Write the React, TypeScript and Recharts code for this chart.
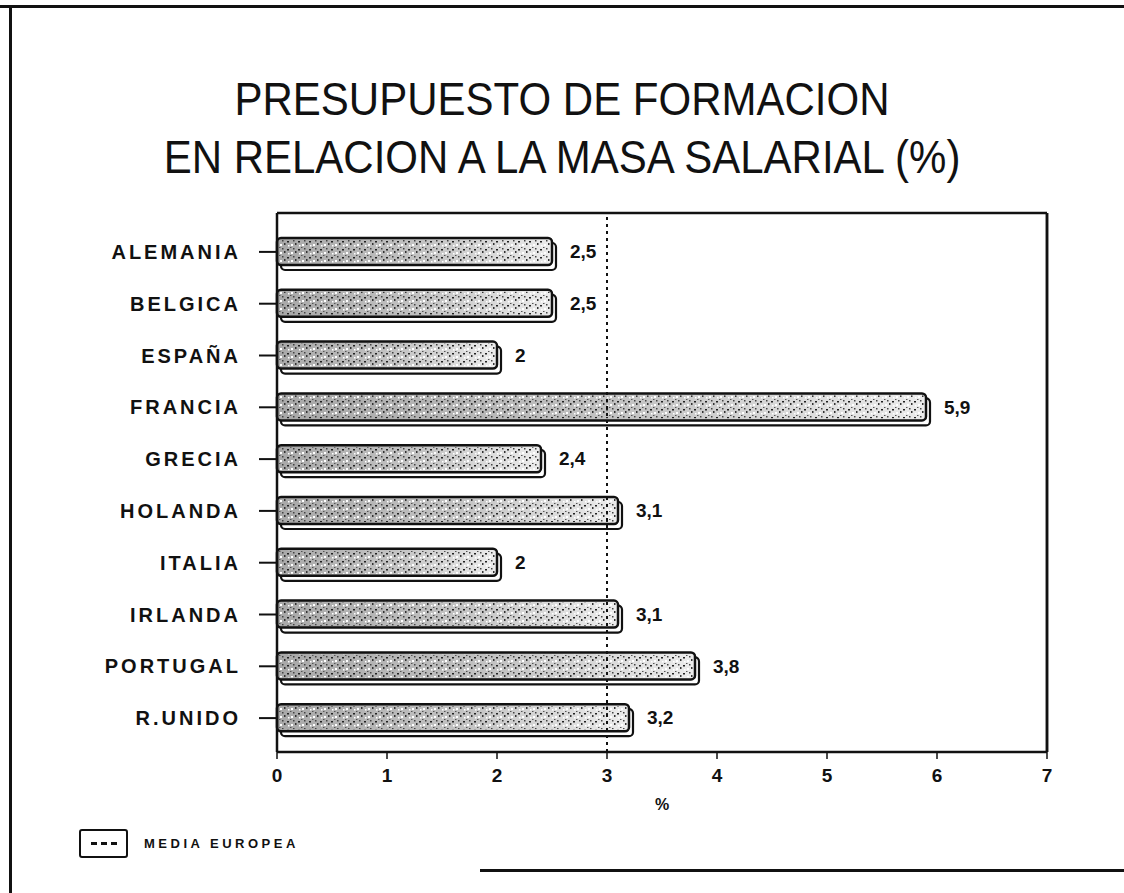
import React from 'react';
import {
  BarChart,
  Bar,
  XAxis,
  YAxis,
  ReferenceLine,
  LabelList,
} from 'recharts';

const paises = ['ALEMANIA', 'BELGICA', 'ESPAÑA', 'FRANCIA', 'GRECIA', 'HOLANDA', 'ITALIA', 'IRLANDA', 'PORTUGAL', 'R.UNIDO'];
const presupuesto = [2.5, 2.5, 2, 5.9, 2.4, 3.1, 2, 3.1, 3.8, 3.2];
const mediaEuropea = 3;
const ticksX = [0, 1, 2, 3, 4, 5, 6, 7];

const data = paises.map((pais, i) => ({ pais, valor: presupuesto[i] }));

const FONT = '"Liberation Sans", Arial, sans-serif';

// barra con efecto 3D: cara trasera desplazada + cara frontal punteada
const Barra3D = (props: any) => {
  const { x, y, width, height } = props;
  if (!width || width <= 0) return null;
  return (
    <g>
      <rect x={x + 4} y={y + 5} width={width} height={height} rx={4} fill="#fff" stroke="#111" strokeWidth={2.2} />
      <rect x={x} y={y} width={width} height={height} rx={4} fill="url(#grisBarra)" stroke="#111" strokeWidth={2.5} />
      <rect x={x + 2} y={y + 2} width={width - 4} height={height - 4} fill="url(#punteado)" />
    </g>
  );
};

const fmt = (v: any) => String(v).replace('.', ',');

export default function App() {
  return (
    <div style={{ position: 'absolute', left: 0, top: 0, width: 1124, height: 893, background: '#fff', fontFamily: FONT }}>
      <svg width={0} height={0} style={{ position: 'absolute' }}>
        <defs>
          <linearGradient id="grisBarra" x1="0" y1="0" x2="1" y2="0">
            <stop offset="0%" stopColor="#a8a8a8" />
            <stop offset="55%" stopColor="#c4c4c4" />
            <stop offset="100%" stopColor="#ececec" />
          </linearGradient>
          <pattern id="punteado" width={11} height={8} patternUnits="userSpaceOnUse">
            <rect x={1} y={1} width={2} height={1.5} fill="#222" />
            <rect x={5} y={4} width={2} height={2} fill="#fff" />
            <rect x={7} y={0} width={1.5} height={1.5} fill="#444" />
            <rect x={2} y={5} width={1.5} height={1.5} fill="#fff" />
            <rect x={9} y={3} width={1.5} height={2} fill="#333" />
            <rect x={4} y={7} width={1.5} height={1} fill="#555" />
          </pattern>
        </defs>
      </svg>

      {/* marco de la hoja escaneada */}
      <div style={{ position: 'absolute', left: 0, top: 5, width: 1124, height: 3, background: '#111' }} />
      <div style={{ position: 'absolute', left: 9, top: 5, width: 3, height: 888, background: '#111' }} />
      <div style={{ position: 'absolute', left: 480, top: 869, width: 644, height: 3, background: '#111' }} />

      <div style={{ position: 'absolute', left: 0, top: 70, width: 1124, textAlign: 'center', fontSize: 42, lineHeight: '52px', color: '#111', transform: 'scaleY(1.12)', transformOrigin: 'top' }}>
        PRESUPUESTO DE FORMACION
        <br />
        EN RELACION A LA MASA SALARIAL (%)
      </div>

      <BarChart
        width={1124}
        height={893}
        data={data}
        layout="vertical"
        margin={{ top: 212, right: 76, bottom: 111, left: 0 }}
        barCategoryGap={23}
      >
        <XAxis
          type="number"
          domain={[0, 7]}
          ticks={ticksX}
          height={30}
          tickSize={7}
          tickMargin={10}
          axisLine={{ stroke: '#111', strokeWidth: 2.5 }}
          tickLine={{ stroke: '#111', strokeWidth: 1.5 }}
          tick={{ fill: '#111', fontSize: 19, fontWeight: 'bold', fontFamily: FONT }}
          label={{ value: '%', position: 'insideBottom', offset: -28, fill: '#111', fontSize: 16, fontWeight: 'bold', fontFamily: FONT }}
        />
        <XAxis
          xAxisId="marco"
          orientation="top"
          type="number"
          domain={[0, 7]}
          height={1}
          tick={false}
          tickLine={false}
          axisLine={{ stroke: '#111', strokeWidth: 2.5 }}
        />
        <YAxis
          type="category"
          dataKey="pais"
          width={277}
          padding={{ top: 13, bottom: 8 }}
          tickSize={18}
          tickMargin={18}
          axisLine={{ stroke: '#111', strokeWidth: 2.5 }}
          tickLine={{ stroke: '#111', strokeWidth: 2 }}
          tick={{ fill: '#111', fontSize: 20, fontWeight: 'bold', fontFamily: FONT, letterSpacing: 3 }}
        />
        <YAxis
          yAxisId="marco"
          orientation="right"
          type="category"
          dataKey="pais"
          width={1}
          tick={false}
          tickLine={false}
          axisLine={{ stroke: '#111', strokeWidth: 2.5 }}
        />
        <ReferenceLine x={7} stroke="#111" strokeWidth={2.5} ifOverflow="extendDomain" />
        <ReferenceLine x={mediaEuropea} stroke="#111" strokeWidth={2} strokeDasharray="3 4" />
        <Bar dataKey="valor" barSize={27} shape={<Barra3D />} isAnimationActive={false}>
          <LabelList
            dataKey="valor"
            position="right"
            offset={18}
            formatter={fmt}
            style={{ fill: '#111', fontSize: 19, fontWeight: 'bold', fontFamily: FONT }}
          />
        </Bar>
      </BarChart>

      {/* leyenda */}
      <div style={{ position: 'absolute', left: 79, top: 829, display: 'flex', alignItems: 'center' }}>
        <div style={{ width: 45, height: 25, border: '2.5px solid #111', borderRadius: 3, display: 'flex', alignItems: 'center', justifyContent: 'center' }}>
          <div style={{ width: 26, borderTop: '3px dashed #111' }} />
        </div>
        <span style={{ marginLeft: 16, fontSize: 13, fontWeight: 'bold', letterSpacing: 3.5, color: '#111' }}>MEDIA EUROPEA</span>
      </div>
    </div>
  );
}
